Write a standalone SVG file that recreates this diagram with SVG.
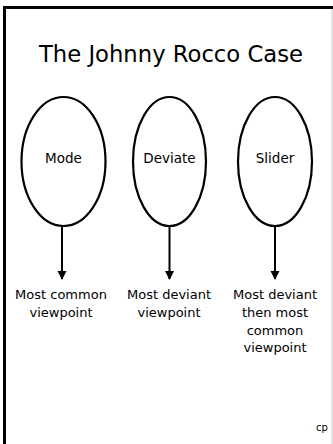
<svg xmlns="http://www.w3.org/2000/svg" width="333" height="444" viewBox="0 0 333 444">
<defs>
<style>
text{font-family:"Comic Sans MS","DejaVu Sans",sans-serif;fill:#000;text-anchor:middle}
.lbl{font-size:13.5px}
.out{font-size:13px}
.node{fill:#fff;stroke:#000;stroke-width:2.2}
.conn{stroke:#000;stroke-width:2;fill:none}
</style>
<marker id="ah" markerWidth="10" markerHeight="10" refX="8" refY="5" orient="auto" markerUnits="userSpaceOnUse">
<path d="M0,0.5 L9,5 L0,9.5 Z" fill="#000"/>
</marker>
</defs>
<rect width="333" height="444" fill="#fff"/>
<g id="frame">
<path d="M4.5,444 V7.5 H333" fill="none" stroke="#000" stroke-width="3"/>
<line x1="332" y1="9" x2="332" y2="444" stroke="#c8c8c8" stroke-width="1"/>
</g>
<text id="title" x="171" y="62" font-size="22.7">The Johnny Rocco Case</text>
<g id="connectors">
<line class="conn" x1="62" y1="226" x2="62" y2="279" marker-end="url(#ah)"/>
<line class="conn" x1="169.5" y1="226" x2="169.5" y2="279" marker-end="url(#ah)"/>
<line class="conn" x1="275" y1="226" x2="275" y2="279" marker-end="url(#ah)"/>
</g>
<g id="mode">
<ellipse class="node" cx="63.5" cy="161.5" rx="42" ry="64.5"/>
<text class="lbl" x="63.5" y="163">Mode</text>
</g>
<g id="deviate">
<ellipse class="node" cx="169.5" cy="161.5" rx="36.5" ry="64.5"/>
<text class="lbl" x="169.5" y="163">Deviate</text>
</g>
<g id="slider">
<ellipse class="node" cx="275" cy="161.5" rx="37" ry="64.5"/>
<text class="lbl" x="275" y="163">Slider</text>
</g>
<g id="out-mode">
<text class="out" x="61" y="299">Most common</text>
<text class="out" x="61" y="317">viewpoint</text>
</g>
<g id="out-deviate">
<text class="out" x="169" y="299">Most deviant</text>
<text class="out" x="169" y="317">viewpoint</text>
</g>
<g id="out-slider">
<text class="out" x="275" y="299">Most deviant</text>
<text class="out" x="275" y="317">then most</text>
<text class="out" x="275" y="335">common</text>
<text class="out" x="275" y="352">viewpoint</text>
</g>
<text x="322" y="431" font-size="10">cp</text>
</svg>
